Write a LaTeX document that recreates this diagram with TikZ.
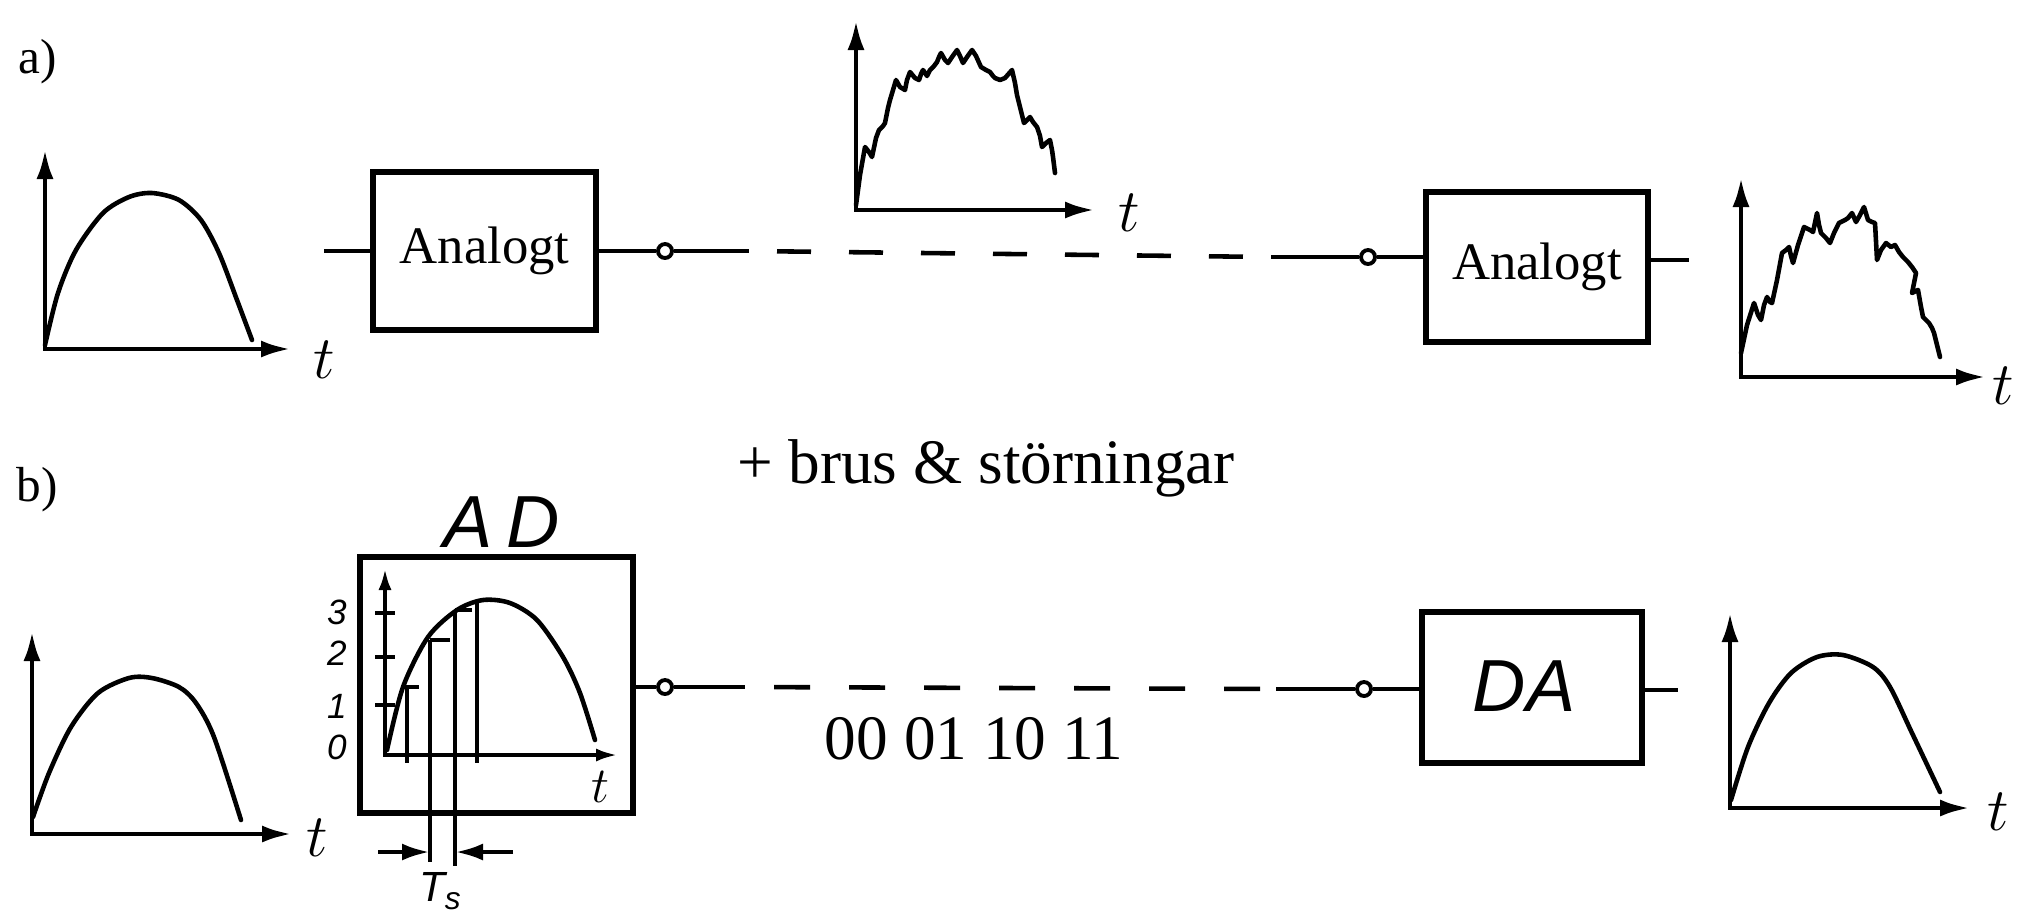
\documentclass[tikz,border=0pt]{standalone}
\usepackage{fontspec}
\setmainfont{Liberation Serif}
\newfontfamily\handfont{Liberation Sans}
\usetikzlibrary{arrows.meta,positioning,calc}

\tikzset{
    axis/.style={line width=1.4pt, {Latex[length=3mm,width=1.7mm]}-{Latex[length=3mm,width=1.7mm]}},
    smallaxis/.style={line width=1.2pt, {Latex[length=2.2mm,width=1.3mm]}-{Latex[length=2.2mm,width=1.3mm]}},
    signal/.style={line width=1.3pt, line join=round, line cap=round},
    wire/.style={line width=1.3pt},
    link/.style={wire, dash pattern=on 3.4mm off 3.8mm, dash phase=4.4mm},
    blockbox/.style={draw, line width=1.5pt, inner sep=0pt, font=\fontsize{15}{18}\selectfont},
    port/.style={draw, circle, line width=1.1pt, fill=white, minimum size=1.4mm, inner sep=0pt},
    tlab/.style={inner sep=0pt, font=\fontsize{16}{16}\selectfont},
    hand/.style={inner sep=0pt, font=\handfont\itshape\fontsize{21}{21}\selectfont},
    level/.style={inner sep=0pt, font=\handfont\itshape\fontsize{10}{10}\selectfont},
    caption/.style={inner sep=0pt, font=\fontsize{18}{20}\selectfont},
}

\begin{document}
\begin{tikzpicture}[x=0.1mm, y=-0.1mm]
    \useasboundingbox (0,0) rectangle (2028,913);

    % a) analog transmission
    \node[inner sep=0pt, font=\fontsize{14}{16}\selectfont] (lbla) at (38,62) {a)};

    % input signal
    \draw[axis] (45,149) -- (45,349) -- (291,349);
    \draw[signal] plot[smooth] coordinates {(45,345) (58,293) (76,250) (103,213) (129,197) (152,193) (179,200) (201,220) (219,253) (237,300) (252,340)};
    \node[tlab] (ta1) at (324,360) {$t$};

    % link
    \coordinate (ina) at (324,251);
    \node[blockbox, minimum width=22.3mm, minimum height=15.8mm] (anaa) at (484.5,251) {Analogt};
    \node[port] (pa1) at (665,251) {};
    \coordinate (da1) at (749,251);
    \coordinate (da2) at (1271,257);
    \node[port] (pa2) at (1368,257) {};
    \node[blockbox, minimum width=22.2mm, minimum height=15mm] (anab) at (1537,267) {Analogt};
    \coordinate (outa) at (1689,260);
    \draw[wire] (ina) -- (anaa.west);
    \draw[wire] (anaa.east) -- (pa1);
    \draw[wire] (pa1) -- (da1);
    \draw[link] (da1) -- (da2);
    \draw[wire] (da2) -- (pa2);
    \draw[wire] (pa2) -- (pa2 -| anab.west);
    \draw[wire] (anab.east |- outa) -- (outa);

    % noisy signal on the line
    \draw[axis] (856,20) -- (856,210) -- (1095,210);
    \draw[signal] plot coordinates {(856,205) (860,175) (865,147) (869,152) (872,157) (876,138) (879,130) (883,126) (885,123) (888,108) (890,100) (893,90) (896,80) (900,87) (905,90) (907,80) (910,72) (915,78) (919,80) (921,74) (923,70) (927,76) (930,70) (934,66) (937,62) (939,57) (941,53) (945,60) (948,63) (952,57) (957,50) (960,56) (963,63) (967,57) (972,50) (976,56) (981,67) (986,70) (990,72) (993,76) (995,78) (1000,80) (1005,78) (1012,70) (1015,83) (1017,95) (1019,103) (1022,115) (1024,123) (1027,120) (1030,117) (1033,122) (1037,127) (1040,136) (1042,147) (1046,143) (1050,140) (1052,150) (1053,157) (1054,165) (1055,173)};
    \node[tlab, font=\fontsize{19}{19}\selectfont] (ta2) at (1129,213) {$t$};

    % received signal
    \draw[axis] (1741,177) -- (1741,377) -- (1986,377);
    \draw[signal] plot coordinates {(1741,353) (1747,325) (1754,303) (1758,315) (1761,320) (1764,305) (1767,297) (1770,302) (1772,303) (1777,280) (1782,253) (1786,250) (1789,247) (1791,256) (1793,263) (1798,245) (1804,227) (1810,230) (1813,232) (1817,213) (1819,225) (1821,233) (1826,238) (1830,243) (1834,233) (1839,223) (1845,220) (1848,218) (1852,213) (1856,222) (1860,215) (1864,207) (1868,220) (1872,222) (1875,223) (1877,260) (1881,250) (1886,243) (1891,247) (1895,245) (1899,252) (1903,257) (1908,262) (1912,267) (1916,273) (1912,293) (1918,290) (1921,307) (1923,317) (1926,320) (1929,323) (1932,328) (1934,333) (1937,345) (1940,357)};
    \node[tlab, font=\fontsize{19}{19}\selectfont] (ta3) at (2003,386) {$t$};

    \node[caption, anchor=base] (noise) at (986,483) {+ brus \& störningar};

    % b) digital transmission
    \node[inner sep=0pt, font=\fontsize{14}{16}\selectfont] (lblb) at (37,490) {b)};

    % input signal
    \draw[axis] (32,631) -- (32,834) -- (292,834);
    \draw[signal] plot[smooth] coordinates {(33,817) (49,773) (71,727) (98,693) (129,678) (152,678) (179,687) (196,703) (214,737) (241,820)};
    \node[tlab] (tb1) at (317,838) {$t$};

    % AD converter with sampled signal
    \node[draw, line width=1.5pt, minimum width=27.3mm, minimum height=25.6mm] (adbox) at (496.5,685) {};
    \node[hand] (adlab) at (502,522) {A\kern4pt D};
    \draw[smallaxis] (385,568) -- (385,755) -- (618,755);
    \foreach \y/\v in {612/3, 653/2, 706/1, 747/0}
        \node[level] at (337,\y) {\v};
    \foreach \y in {613,657,705}
        \draw[wire] (375,\y) -- (395,\y);
    \draw[signal] plot[smooth] coordinates {(387,750) (403,687) (428,637) (457,610) (483,600) (510,603) (537,620) (563,657) (580,693) (595,740)};
    \draw[wire] (407,687) -- (407,763);
    \draw[wire] (402,687) -- (419,687);
    \draw[wire] (430,640) -- (450,640);
    \draw[wire] (455,610) -- (472,610);
    \draw[wire] (477,603) -- (477,763);
    \node[tlab, font=\fontsize{15}{15}\selectfont] (tb2) at (600,787) {$t$};

    % sampling interval
    \coordinate (ts1) at (430,640);
    \coordinate (ts2) at (455,610);
    \coordinate (tsl) at (378,852);
    \coordinate (tsr) at (513,852);
    \draw[wire] (ts1) -- (ts1 |- 0,862);
    \draw[wire] (ts2) -- (ts2 |- 0,866);
    \draw[wire, -{Latex[length=2.8mm,width=1.7mm]}] (tsl) -- (tsl -| ts1);
    \draw[wire, -{Latex[length=2.8mm,width=1.7mm]}] (tsr) -- (tsr -| ts2);
    \node[inner sep=0pt, anchor=base, font=\handfont\itshape\fontsize{12}{12}\selectfont] (tslab) at (440,901) {T\raisebox{-0.4ex}{\fontsize{9}{9}\selectfont s}};

    % link
    \node[port] (pb1) at (665,687) {};
    \coordinate (db1) at (745,687);
    \coordinate (db2) at (1276,689);
    \node[port] (pb2) at (1364,689) {};
    \node[draw, line width=1.5pt, inner sep=0pt, minimum width=22mm, minimum height=15.1mm] (dabox) at (1532,687.5) {};
    \node[hand] (dalab) at (1524,686) {DA};
    \coordinate (outb) at (1678,690);
    \draw[wire] (adbox.east |- pb1) -- (pb1);
    \draw[wire] (pb1) -- (db1);
    \draw[link, dash pattern=on 3.6mm off 3.9mm, dash phase=4.6mm] (db1) -- (db2);
    \draw[wire] (db2) -- (pb2);
    \draw[wire] (pb2) -- (pb2 -| dabox.west);
    \draw[wire] (dabox.east |- outb) -- (outb);
    \node[caption, anchor=base] (bits) at (974,759) {00 01 10 11};

    % reconstructed signal
    \draw[axis] (1730,612) -- (1730,808) -- (1970,808);
    \draw[signal] plot[smooth] coordinates {(1731,800) (1748,747) (1769,703) (1791,673) (1817,657) (1843,655) (1873,667) (1890,687) (1912,733) (1940,792)};
    \node[tlab, font=\fontsize{19}{19}\selectfont] (tb3) at (1998,812) {$t$};
\end{tikzpicture}
\end{document}
